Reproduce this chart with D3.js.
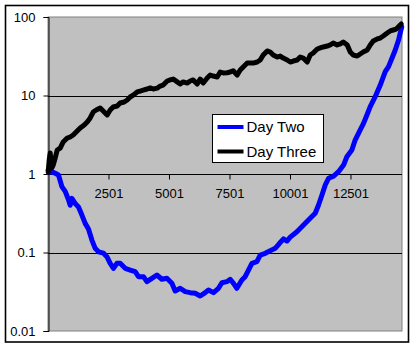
<!DOCTYPE html>
<html>
<head>
<meta charset="utf-8">
<script src="https://cdn.jsdelivr.net/npm/d3@7"></script>
<style>
  html, body { margin: 0; padding: 0; background: #fff; }
  svg { display: block; font-family: Arial, "Liberation Sans", sans-serif; }
</style>
</head>
<body>
<svg id="chart" width="416" height="349"></svg>
<script>
// ---- data ----
const seriesNames = ["Day Two", "Day Three"];
const seriesColors = ["#0000ff", "#000000"];
const totalPoints = 14630;
const xTickLabels = [2501, 5001, 7501, 10001, 12501];
const yTickValues = [100, 10, 1, 0.1, 0.01];
const yTickLabels = ["100", "10", "1", "0.1", "0.01"];
const gridValues = [10, 0.1];

const dayTwoIdx = [9, 51, 162, 299, 435, 575, 712, 848, 918, 989, 1126, 1261, 1402, 1538, 1674, 1815, 1951, 2088, 2294, 2435,
  2571, 2707, 2848, 2984, 3191, 3397, 3604, 3740, 3947, 4088, 4294, 4501, 4707, 4914, 5121, 5257, 5464, 5671, 5877, 6084,
  6291, 6497, 6633, 6840, 7046, 7187, 7393, 7531, 7667, 7806, 8013, 8149, 8286, 8426, 8633, 8771, 8978, 9184, 9391, 9569,
  9734, 9875, 10011, 10288, 10561, 10837, 11044, 11181, 11322, 11458, 11595, 11802, 12008, 12215, 12351, 12558, 12694, 12904, 13040, 13181,
  13317, 13524, 13731, 13938, 14074, 14215, 14351, 14488, 14557, 14619];
const dayTwoVal = [1.12, 1.06, 1.07, 1.02, 0.97, 0.69, 0.60, 0.47, 0.40, 0.49, 0.42, 0.38, 0.30, 0.235, 0.199, 0.144, 0.113, 0.102, 0.098, 0.0885,
  0.0728, 0.0629, 0.0728, 0.0728, 0.0629, 0.0598, 0.0569, 0.0492, 0.0492, 0.0425, 0.0469, 0.0517, 0.0456, 0.0469, 0.0405, 0.0324, 0.0350, 0.0317, 0.0308, 0.0302,
  0.0279, 0.0308, 0.0333, 0.0308, 0.0350, 0.0412, 0.0425, 0.0456, 0.0405, 0.0350, 0.0447, 0.0492, 0.0598, 0.0728, 0.0764, 0.0929, 0.0977, 0.1054, 0.1132, 0.131,
  0.149, 0.140, 0.157, 0.184, 0.224, 0.273, 0.316, 0.403, 0.540, 0.724, 0.881, 0.94, 1.07, 1.30, 1.66, 2.02, 2.71, 3.64, 4.42, 5.65,
  7.20, 9.66, 13.6, 20.1, 23.3, 29.8, 38.0, 50.9, 62.5, 74.6];

const dayThreeIdx = [9, 51, 92, 154, 216, 299, 381, 505, 629, 795, 918, 1042, 1207, 1331, 1497, 1621, 1745, 1869, 1993, 2158,
  2323, 2447, 2571, 2695, 2860, 2984, 3149, 3273, 3397, 3521, 3687, 3811, 3935, 4100, 4224, 4348, 4513, 4637, 4761, 4927,
  5051, 5175, 5340, 5464, 5588, 5753, 5877, 6001, 6167, 6291, 6415, 6580, 6704, 6828, 6993, 7117, 7241, 7407, 7531, 7655,
  7820, 7944, 8068, 8233, 8357, 8481, 8647, 8771, 8895, 9060, 9184, 9308, 9473, 9597, 9721, 9887, 10011, 10135, 10300, 10424,
  10548, 10713, 10837, 10961, 11127, 11251, 11375, 11540, 11664, 11788, 11953, 12077, 12201, 12367, 12491, 12615, 12780, 12904, 13028, 13193,
  13317, 13441, 13607, 13731, 13855, 14020, 14144, 14268, 14392, 14516, 14599];
const dayThreeVal = [1.06, 1.51, 1.85, 1.19, 1.30, 1.60, 2.02, 2.14, 2.56, 2.87, 2.96, 3.14, 3.53, 3.85, 4.21, 4.60, 5.17, 6.16, 6.53, 6.93,
  6.16, 5.65, 6.53, 7.14, 7.35, 8.02, 8.26, 8.76, 9.57, 10.1, 11.1, 11.4, 11.7, 12.1, 12.5, 12.1, 12.4, 13.2, 13.6, 15.3,
  15.8, 16.2, 14.9, 14.0, 14.9, 14.4, 15.3, 15.8, 14.0, 16.2, 14.4, 16.7, 18.2, 17.7, 17.2, 19.9, 19.4, 19.5, 19.9, 20.7,
  18.2, 21.1, 23.1, 25.9, 25.9, 25.9, 26.7, 28.3, 32.8, 36.9, 35.8, 32.8, 30.9, 31.8, 30.0, 28.3, 26.7, 27.5, 28.3, 30.9,
  30.0, 26.7, 32.8, 34.8, 39.1, 40.3, 41.5, 42.7, 44.0, 46.7, 44.0, 45.3, 48.1, 44.0, 35.8, 32.8, 31.8, 33.8, 35.8, 38.0,
  44.0, 49.5, 52.5, 54.0, 57.3, 62.5, 66.4, 68.3, 70.3, 76.8, 81.5];

const series = [
  { name: seriesNames[0], color: seriesColors[0], pts: d3.zip(dayTwoIdx, dayTwoVal) },
  { name: seriesNames[1], color: seriesColors[1], pts: d3.zip(dayThreeIdx, dayThreeVal) }
];

// ---- layout ----
const svg = d3.select("#chart");
const plot = { left: 48, top: 17, right: 402, bottom: 331 };

const x = d3.scaleLinear().domain([1, totalPoints]).range([plot.left, plot.right]);
const y = d3.scaleLog().domain([0.01, 100]).range([plot.bottom, plot.top]);

// chart border
svg.append("rect")
  .attr("x", 5.5).attr("y", 5.5).attr("width", 403).attr("height", 336.5)
  .attr("fill", "#fff").attr("stroke", "#000").attr("stroke-width", 1.6);

// plot area
svg.append("rect")
  .attr("x", plot.left).attr("y", plot.top)
  .attr("width", plot.right - plot.left).attr("height", plot.bottom - plot.top)
  .attr("fill", "#c0c0c0").attr("stroke", "#808080").attr("stroke-width", 1);

// gridlines
svg.append("g").selectAll("line").data(gridValues).join("line")
  .attr("x1", plot.left).attr("x2", plot.right)
  .attr("y1", d => Math.round(y(d)) + 0.5).attr("y2", d => Math.round(y(d)) + 0.5)
  .attr("stroke", "#000").attr("stroke-width", 1);

// y axis
const yAxis = d3.axisLeft(y).tickValues(yTickValues).tickSize(5).tickPadding(8)
  .tickFormat((d, i) => yTickLabels[i]);
const gy = svg.append("g").attr("transform", `translate(${plot.left + 0.5},0)`).call(yAxis);
gy.select(".domain").attr("stroke", "#000");
gy.selectAll(".tick line").attr("stroke", "#000");
gy.selectAll(".tick text").attr("font-size", 13).attr("fill", "#000")
  .attr("font-family", "Arial, 'Liberation Sans', sans-serif");

// x axis crossing at 1
const xAxis = d3.axisBottom(x).tickValues(xTickLabels).tickSize(5).tickPadding(9)
  .tickFormat(d3.format("d"));
const gx = svg.append("g").attr("transform", `translate(0,${Math.round(y(1)) + 0.5})`).call(xAxis);
gx.select(".domain").attr("stroke", "#000").attr("d", `M${plot.left},0H${plot.right}`);
gx.selectAll(".tick line").attr("stroke", "#000");
gx.selectAll(".tick text").attr("font-size", 13).attr("fill", "#000")
  .attr("font-family", "Arial, 'Liberation Sans', sans-serif");

// series lines
const line = d3.line().x(d => x(d[0])).y(d => y(d[1]));
svg.append("g").selectAll("path").data(series).join("path")
  .attr("d", d => line(d.pts))
  .attr("fill", "none").attr("stroke", d => d.color)
  .attr("stroke-width", 5).attr("stroke-linejoin", "round").attr("stroke-linecap", "round");

// legend
const legend = svg.append("g").attr("transform", "translate(212.5,114.5)");
legend.append("rect").attr("width", 111).attr("height", 48)
  .attr("fill", "#fff").attr("stroke", "#000").attr("stroke-width", 1);
series.forEach((s, i) => {
  const ly = 12.5 + i * 24.5;
  legend.append("line").attr("x1", 5).attr("x2", 31).attr("y1", ly).attr("y2", ly)
    .attr("stroke", s.color).attr("stroke-width", 4);
  legend.append("text").attr("x", 34).attr("y", ly).attr("dy", "0.36em")
    .attr("font-size", 15).attr("fill", "#000").text(s.name);
});
</script>
</body>
</html>
